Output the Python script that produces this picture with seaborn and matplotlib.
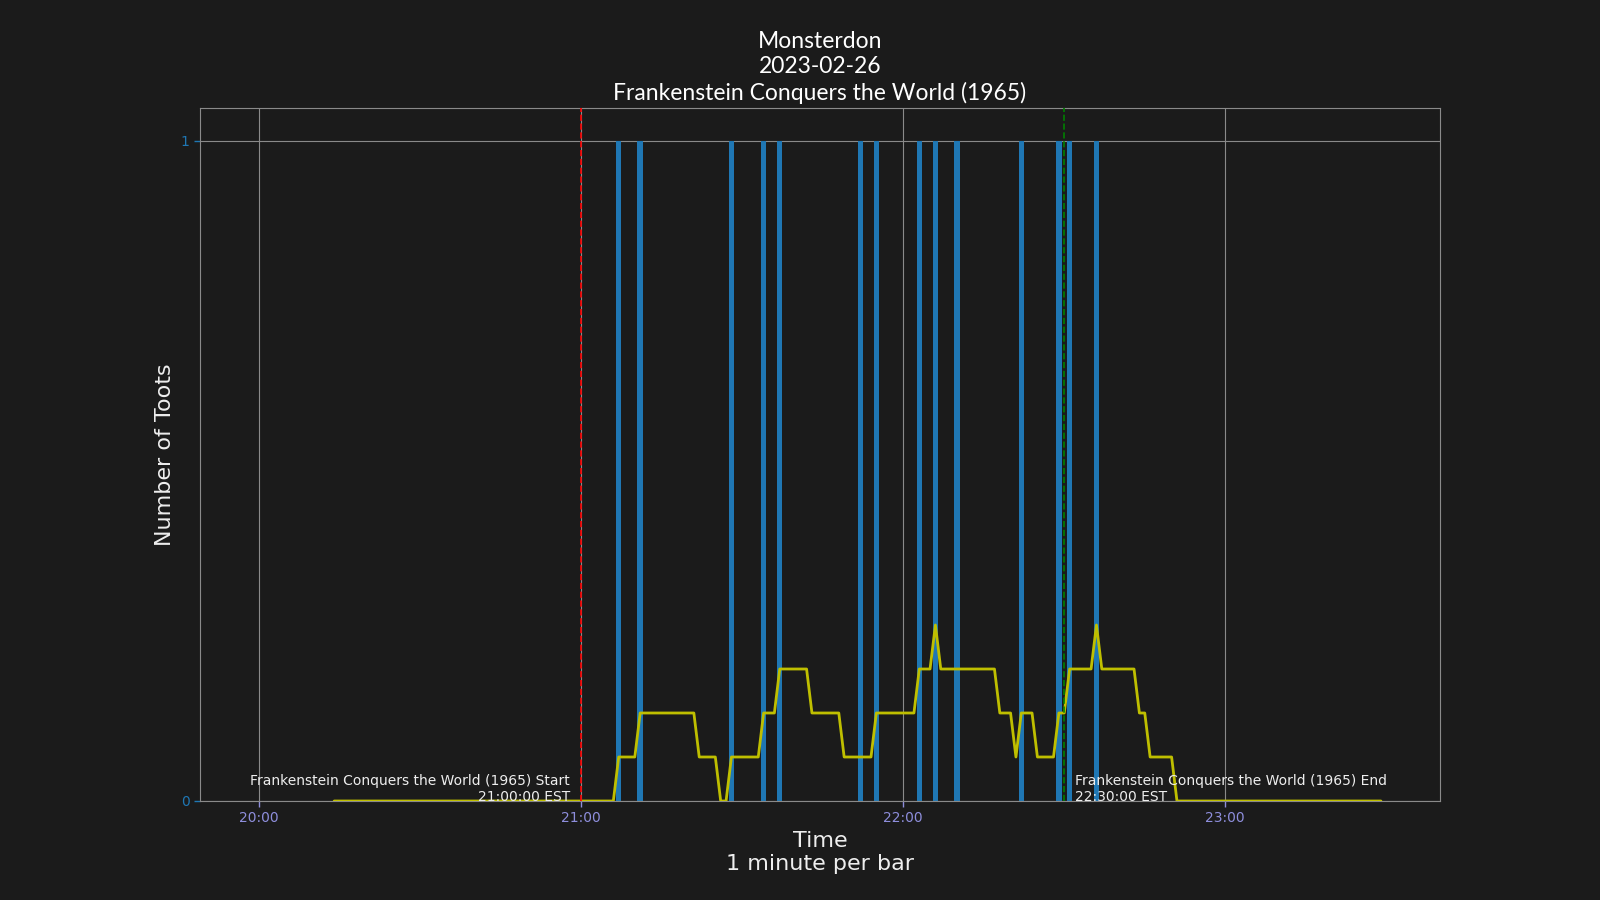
import matplotlib
matplotlib.use("Agg")
import matplotlib.pyplot as plt
import matplotlib.dates as mdates
import pandas as pd
import seaborn as sns

# toots per minute (only the minutes that had a toot)
toot_times = ["21:07", "21:11", "21:28", "21:34", "21:37", "21:52", "21:55",
              "22:03", "22:06", "22:10", "22:22", "22:29", "22:31", "22:36"]
toot_counts = [1, 1, 1, 1, 1, 1, 1, 1, 1, 1, 1, 1, 1, 1]
day = "2023-02-26"
first_minute = "20:00"
last_minute = "23:29"
movie = "Frankenstein Conquers the World (1965)"
start_time = "21:00"
end_time = "22:30"
window = 15  # rolling average window (minutes)

bg = "#1b1b1b"
grid_c = "#8a8a8a"

minutes = pd.date_range(f"{day} {first_minute}", f"{day} {last_minute}", freq="min")
counts = pd.Series(toot_counts, index=pd.to_datetime([f"{day} {t}" for t in toot_times]))
counts = counts.reindex(minutes, fill_value=0)
df = pd.DataFrame({"time": minutes, "toots": counts.values,
                   "avg": counts.rolling(window).mean().values})

sns.set_theme(style="darkgrid", color_codes=False)
plt.rcParams.update({
    "figure.facecolor": bg,
    "axes.facecolor": bg,
    "axes.edgecolor": grid_c,
    "grid.color": grid_c,
    "text.color": "#eeeeee",
    "axes.labelcolor": "#eeeeee",
})
plt.rcParams["font.family"] = ["DejaVu Sans"]

fig, ax = plt.subplots(figsize=(16, 9), dpi=100)
fig.subplots_adjust(left=0.125, right=0.9, bottom=0.11, top=0.88)

ax.bar(df["time"], df["toots"], width=1 / 1440, color="#1f77b4",
       edgecolor="none", linewidth=0, zorder=2)
sns.lineplot(data=df, x="time", y="avg", ax=ax, color="#bfbf00", linewidth=2, zorder=3)

t0 = pd.Timestamp(f"{day} {start_time}")
t1 = pd.Timestamp(f"{day} {end_time}")
ax.axvline(t0, color="#ff0000", linestyle="--", linewidth=1.2, zorder=4)
ax.axvline(t1, color="#008000", linestyle="--", linewidth=1.2, zorder=4)
ax.annotate(f"{movie} Start\n{t0:%H:%M:%S} EST", xy=(t0, 0), xytext=(-8, 0),
            textcoords="offset points", ha="right", va="baseline",
            fontsize=10, color="#eeeeee")
ax.annotate(f"{movie} End\n{t1:%H:%M:%S} EST", xy=(t1, 0), xytext=(7.5, 0),
            textcoords="offset points", ha="left", va="baseline",
            fontsize=10, color="#eeeeee")

ax.xaxis.set_major_locator(mdates.HourLocator())
ax.xaxis.set_major_formatter(mdates.DateFormatter("%H:%M"))
ax.set_yticks([0, 1])
ax.set_ylim(0, 1.05)
ax.set_xlim(pd.Timestamp(f"{day} 19:49"), pd.Timestamp(f"{day} 23:40"))
ax.tick_params(axis="x", colors="#8e8edc", labelsize=10, length=4, width=1, bottom=True)
ax.tick_params(axis="y", colors="#1f77b4", labelsize=10, length=4, width=1, left=True)
ax.grid(True, color=grid_c, linewidth=0.8)
for s in ax.spines.values():
    s.set_color(grid_c)
    s.set_linewidth(0.8)

ax.set_title(f"Monsterdon\n{day}\n{movie}", fontsize=16.5, color="#ffffff",
             fontfamily="Lato", linespacing=1.25)
ax.set_xlabel("Time\n1 minute per bar", fontsize=16, color="#eeeeee")
ax.set_ylabel("Number of Toots", fontsize=16, color="#eeeeee")

plt.savefig("out.png", facecolor=bg)
